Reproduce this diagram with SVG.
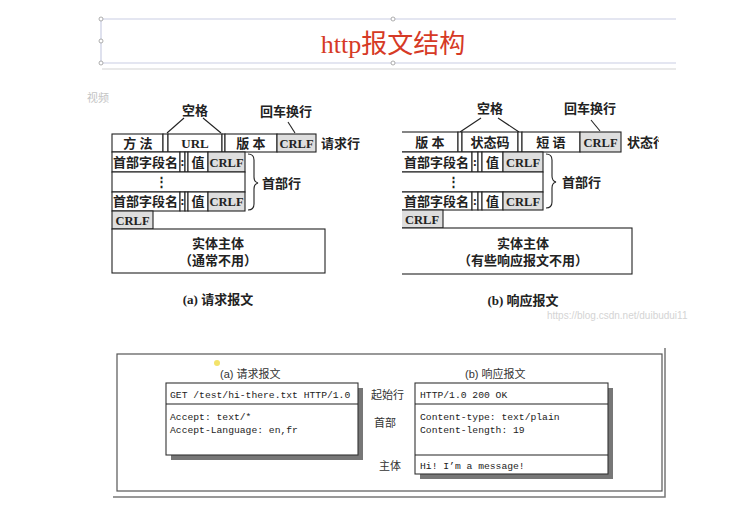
<svg xmlns="http://www.w3.org/2000/svg" width="755" height="520" viewBox="0 0 755 520">
<style>
.cell{fill:#fff;stroke:#222;stroke-width:1.1}
.crlf{fill:#dedede;stroke:#222;stroke-width:1.1}
.ln{stroke:#222;stroke-width:1.1;fill:none}
.t{font-family:"Liberation Serif","Noto Sans CJK SC",serif;font-weight:bold;font-size:13px;fill:#222}
.tc{font-family:"Liberation Serif","Noto Sans CJK SC",serif;font-weight:bold;font-size:13px;fill:#222;text-anchor:middle}
.cr{font-family:"Liberation Serif",serif;font-weight:bold;font-size:12.5px;fill:#222;text-anchor:middle}
.mono{font-family:"Liberation Mono",monospace;font-size:9.7px;fill:#222}
.lab{font-family:"Liberation Sans","Noto Sans CJK SC",sans-serif;font-size:11px;fill:#333}
.box{fill:#fff;stroke:#333;stroke-width:1.1}
.shadow{fill:#777}
.sel{stroke:#c9cde3;stroke-width:1.2}
.handle{fill:#fff;stroke:#999;stroke-width:0.8}
</style>
<defs>
<clipPath id="clipR"><rect x="402" y="90" width="257" height="230"/></clipPath>
</defs>
<rect width="755" height="520" fill="#fff"/>

<g id="title">
<line class="sel" x1="101" y1="19" x2="676" y2="19"/>
<line class="sel" x1="101" y1="63" x2="676" y2="63"/>
<line class="sel" x1="101" y1="19" x2="101" y2="63"/>
<line x1="102" y1="69" x2="676" y2="69" stroke="#e2e2e2" stroke-width="1.5"/>
<circle class="handle" cx="101" cy="19" r="2"/>
<circle class="handle" cx="101" cy="41" r="2"/>
<circle class="handle" cx="101" cy="63" r="2"/>
<circle class="handle" cx="393" cy="19" r="2"/>
<circle class="handle" cx="393" cy="63" r="2"/>
<text x="393" y="53" text-anchor="middle" font-family="Liberation Serif,'Noto Sans CJK SC',serif" font-size="26" fill="#d63a26">http报文结构</text>
</g>

<text x="87" y="102" font-family="'Noto Sans CJK SC',sans-serif" font-size="11" fill="#c4c4c4">视频</text>

<!-- Request message format -->
<g id="req-format">
<text class="tc" x="195" y="115">空格</text>
<text class="tc" x="286" y="116">回车换行</text>
<g id="req-connectors">
<path class="ln" d="M184 118 L167 133"/>
<path class="ln" d="M203 118 L221 133"/>
<path class="ln" d="M288 122 L295 133"/>
</g>
<rect class="cell" x="112" y="134" width="51" height="18"/>
<rect class="cell" x="163" y="134" width="5" height="18"/>
<rect class="cell" x="168" y="134" width="54" height="18"/>
<rect class="cell" x="222" y="134" width="3" height="18"/>
<rect class="cell" x="225" y="134" width="52" height="18"/>
<rect class="crlf" x="277" y="134" width="39" height="18"/>
<text class="tc" x="138" y="148">方 法</text>
<text class="tc" x="195" y="148">URL</text>
<text class="tc" x="251" y="148">版 本</text>
<text class="cr" x="296.5" y="148">CRLF</text>
<text class="t" x="321" y="148">请求行</text>
<rect class="cell" x="112" y="152" width="68" height="20"/>
<rect class="cell" x="180" y="152" width="5" height="20"/>
<rect class="cell" x="185" y="152" width="3" height="20"/>
<rect class="cell" x="188" y="152" width="20" height="20"/>
<rect class="crlf" x="208" y="152" width="37" height="20"/>
<text class="t" x="113" y="167" font-size="12.5">首部字段名</text>
<text class="tc" x="182.5" y="166">:</text>
<text class="tc" x="198" y="167">值</text>
<text class="cr" x="226.5" y="167">CRLF</text>
<rect class="cell" x="112" y="172" width="133" height="20"/>
<text class="tc" x="161" y="186">⋮</text>
<rect class="cell" x="112" y="192" width="68" height="19"/>
<rect class="cell" x="180" y="192" width="5" height="19"/>
<rect class="cell" x="185" y="192" width="3" height="19"/>
<rect class="cell" x="188" y="192" width="20" height="19"/>
<rect class="crlf" x="208" y="192" width="37" height="19"/>
<text class="t" x="113" y="206" font-size="12.5">首部字段名</text>
<text class="tc" x="182.5" y="205">:</text>
<text class="tc" x="198" y="206">值</text>
<text class="cr" x="226.5" y="206">CRLF</text>
<path class="ln" d="M248 154 Q254 154 254 160 L254 177 Q254 182 258 183 Q254 184 254 189 L254 204 Q254 210 248 210"/>
<text class="t" x="262" y="188">首部行</text>
<rect class="crlf" x="112" y="211" width="41" height="18"/>
<text class="cr" x="132.5" y="225">CRLF</text>
<rect class="cell" x="112" y="229" width="213" height="44"/>
<text class="tc" x="218" y="248">实体主体</text>
<text class="tc" x="218" y="265">（通常不用）</text>
<text class="tc" x="218" y="304">(a) 请求报文</text>
</g>

<!-- Response message format -->
<g id="resp-format">
<text class="tc" x="490" y="113">空格</text>
<text class="tc" x="590" y="113">回车换行</text>
<g id="resp-connectors">
<path class="ln" d="M481 118 L460 132"/>
<path class="ln" d="M498 118 L519 132"/>
<path class="ln" d="M591 120 L600 131"/>
</g>
<g clip-path="url(#clipR)">
<rect class="cell" x="400" y="132" width="58" height="20"/>
<rect class="cell" x="458" y="132" width="4" height="20"/>
<rect class="cell" x="462" y="132" width="56" height="20"/>
<rect class="cell" x="518" y="132" width="4" height="20"/>
<rect class="cell" x="522" y="132" width="58" height="20"/>
<rect class="crlf" x="580" y="132" width="41" height="20"/>
<text class="tc" x="430" y="147">版 本</text>
<text class="tc" x="490" y="147">状态码</text>
<text class="tc" x="551" y="147">短 语</text>
<text class="cr" x="600.5" y="147">CRLF</text>
<text class="t" x="627" y="147">状态行</text>
<rect class="cell" x="400" y="152" width="72" height="20"/>
<rect class="cell" x="472" y="152" width="6" height="20"/>
<rect class="cell" x="478" y="152" width="4" height="20"/>
<rect class="cell" x="482" y="152" width="21" height="20"/>
<rect class="crlf" x="503" y="152" width="40" height="20"/>
<text class="t" x="404" y="167" font-size="12.5">首部字段名</text>
<text class="tc" x="475" y="166">:</text>
<text class="tc" x="492.5" y="167">值</text>
<text class="cr" x="523" y="167">CRLF</text>
<rect class="cell" x="400" y="172" width="143" height="20"/>
<text class="tc" x="453" y="186">⋮</text>
<rect class="cell" x="400" y="192" width="72" height="18"/>
<rect class="cell" x="472" y="192" width="6" height="18"/>
<rect class="cell" x="478" y="192" width="4" height="18"/>
<rect class="cell" x="482" y="192" width="21" height="18"/>
<rect class="crlf" x="503" y="192" width="40" height="18"/>
<text class="t" x="404" y="206" font-size="12.5">首部字段名</text>
<text class="tc" x="475" y="205">:</text>
<text class="tc" x="492.5" y="206">值</text>
<text class="cr" x="523" y="206">CRLF</text>
<rect class="crlf" x="400" y="210" width="43" height="18"/>
<text class="cr" x="422" y="224">CRLF</text>
<rect class="cell" x="400" y="228" width="232" height="46"/>
</g>
<path class="ln" d="M546 154 Q552 154 552 160 L552 176 Q552 181 556 182 Q552 183 552 188 L552 202 Q552 208 546 208"/>
<text class="t" x="562" y="187">首部行</text>
<text class="tc" x="523" y="248">实体主体</text>
<text class="tc" x="523" y="265">（有些响应报文不用）</text>
<text class="tc" x="523" y="305">(b) 响应报文</text>
<text x="547" y="319" font-family="'Liberation Sans',sans-serif" font-size="10" fill="#d4d4d4">https://blog.csdn.net/duibudui11</text>
</g>

<g id="example-frame">
<rect x="117" y="354" width="545" height="137" fill="#fff" stroke="#555" stroke-width="1.2"/>
<polyline points="113,497 665,497 665,348" fill="none" stroke="#777" stroke-width="1.5"/>
<circle cx="217" cy="363" r="3" fill="#f3e36a"/>
</g>

<g id="req-example">
<text class="lab" x="220" y="378">(a)  请求报文</text>
<rect class="shadow" x="171" y="388" width="192" height="72"/>
<rect class="box" x="166" y="383" width="192" height="72"/>
<line class="ln" x1="166" y1="404" x2="358" y2="404"/>
<text class="mono" x="170" y="398">GET /test/hi-there.txt HTTP/1.0</text>
<text class="mono" x="170" y="420">Accept: text/*</text>
<text class="mono" x="170" y="433">Accept-Language: en,fr</text>
</g>

<g id="resp-example">
<text class="lab" x="465" y="378">(b)  响应报文</text>
<text class="lab" x="371" y="399">起始行</text>
<text class="lab" x="374" y="427">首部</text>
<text class="lab" x="379" y="470">主体</text>
<rect class="shadow" x="420" y="388" width="193" height="91"/>
<rect class="box" x="415" y="383" width="193" height="91"/>
<line class="ln" x1="415" y1="404" x2="608" y2="404"/>
<line class="ln" x1="415" y1="455" x2="608" y2="455"/>
<text class="mono" x="420" y="398">HTTP/1.0 200 OK</text>
<text class="mono" x="420" y="420">Content-type: text/plain</text>
<text class="mono" x="420" y="433">Content-length: 19</text>
<text class="mono" x="420" y="469">Hi! I’m a message!</text>
</g>
</svg>
